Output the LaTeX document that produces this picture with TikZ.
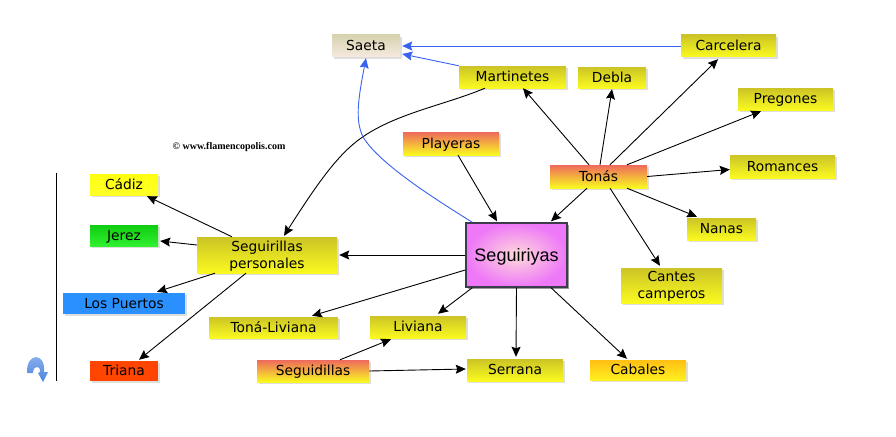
\documentclass[tikz,border=0pt]{standalone}
\usepackage{fontspec}
\setmainfont{DejaVu Sans}
\newfontfamily\arialf{Liberation Sans}
\newfontfamily\timesf{Liberation Serif}
\usetikzlibrary{arrows.meta,shadows,calc}
\definecolor{olivetop}{HTML}{CCC426}
\definecolor{yelbot}{HTML}{FAFA20}
\definecolor{redtop}{HTML}{EE6A5C}
\definecolor{sandtop}{HTML}{D6D3B0}
\definecolor{sandbot}{HTML}{F6E9DF}
\definecolor{ambertop}{HTML}{FFBF14}
\definecolor{amberbot}{HTML}{FFF020}
\definecolor{yeltop}{HTML}{FFFF10}
\definecolor{yelb}{HTML}{FFFF28}
\definecolor{greentop}{HTML}{10CC10}
\definecolor{greenbot}{HTML}{30F030}
\definecolor{bluebox}{HTML}{2A90FF}
\definecolor{redbox}{HTML}{FF4500}
\definecolor{centeredge}{HTML}{3C3C4C}
\definecolor{centerin}{HTML}{FFDADA}
\definecolor{centerout}{HTML}{EE78F8}
\definecolor{blueline}{HTML}{3A62F0}
\definecolor{icontop}{HTML}{8FB4EE}
\definecolor{iconbot}{HTML}{4F86DE}
\tikzset{
  x=1pt,y=-1pt,
  bxbase/.style={draw=none,inner sep=0pt,align=center,font=\fontsize{13.8}{17}\selectfont,
    drop shadow={shadow xshift=2pt,shadow yshift=-2pt,fill=black!13,opacity=1}},
  olive/.style={bxbase,top color=olivetop,bottom color=yelbot},
  reddish/.style={bxbase,top color=redtop,bottom color=yelbot},
  sand/.style={bxbase,top color=sandtop,bottom color=sandbot},
  amber/.style={bxbase,top color=ambertop,bottom color=amberbot},
  solidyel/.style={bxbase,top color=yeltop,bottom color=yelb},
  solidgreen/.style={bxbase,top color=greentop,bottom color=greenbot},
  solidblue/.style={bxbase,fill=bluebox},
  solidred/.style={bxbase,fill=redbox},
  central/.style={draw=centeredge,line width=1.4pt,inner sep=0pt,align=center,
    font=\arialf\fontsize{18}{20}\selectfont,inner color=centerin,outer color=centerout,
    drop shadow={shadow xshift=2pt,shadow yshift=-2pt,fill=black!40,opacity=1}},
  conn/.style={draw=black,line width=0.9pt,-{Stealth[length=10pt,width=9pt,inset=1.5pt]}},
  blueconn/.style={draw=blueline,line width=0.9pt,-{Stealth[length=10pt,width=9pt,inset=1.5pt]}},
}
% \bx{name}{left}{top}{right}{bottom}{style}{text}
\newcommand{\bx}[7]{%
  \pgfmathsetmacro{\bxw}{#4-#2}\pgfmathsetmacro{\bxh}{#5-#3}%
  \node[#6,minimum width=\bxw pt,minimum height=\bxh pt] (#1) at ({(#2+#4)/2},{(#3+#5)/2}) {\rule[-3.2pt]{0pt}{16pt}#7};}
\begin{document}
\begin{tikzpicture}
\useasboundingbox (0,0) rectangle (896,436);
\fill[white] (0,0) rectangle (896,436);
\bx{saeta}{332}{35}{400}{57}{sand}{Saeta}
\bx{mart}{459}{66}{566}{88}{olive}{Martinetes}
\bx{debla}{578}{67}{646}{88}{olive}{Debla}
\bx{carc}{681}{35}{776}{57}{olive}{Carcelera}
\bx{preg}{738}{88}{833}{110}{olive}{Pregones}
\bx{roma}{730}{155}{835}{178}{olive}{Romances}
\bx{play}{403}{132}{499}{155}{reddish}{Playeras}
\bx{tonas}{550}{165}{647}{188}{reddish}{Tonás}
\bx{nanas}{687}{218}{756}{240}{olive}{Nanas}
\bx{cantes}{621}{268}{722}{303}{olive}{Cantes\\camperos}
\bx{segui}{466}{223}{567}{287}{central}{\rule[-3.8pt]{0pt}{20.6pt}Seguiriyas}
\bx{livi}{370}{316}{466}{338}{olive}{Liviana}
\bx{serr}{467}{359}{563}{381}{olive}{Serrana}
\bx{caba}{590}{360}{686}{380}{amber}{Cabales}
\bx{sgdl}{257}{360}{369}{382}{reddish}{Seguidillas}
\bx{tlivi}{209}{317}{338}{338}{olive}{Toná-Liviana}
\bx{pers}{197}{237}{337}{273}{olive}{Seguirillas\\personales}
\bx{cadiz}{90}{174}{158}{195}{solidyel}{Cádiz}
\bx{jerez}{90}{225}{158}{246}{solidgreen}{Jerez}
\bx{puer}{63}{293}{185}{314}{solidblue}{Los Puertos}
\bx{tria}{90}{361}{158}{381}{solidred}{Triana}
\node[font=\timesf\bfseries\fontsize{10}{12}\selectfont,inner sep=0pt] (copy) at (229,147.5) {© www.flamencopolis.com};
% black connectors
\draw[conn] ([xshift=-9.5pt]tonas.north) -- ([xshift=10.5pt]mart.south);
\draw[conn] ([xshift=1.5pt]tonas.north) -- ([yshift=-1pt]debla.south);
\draw[conn] ([xshift=11.5pt]tonas.north) -- ([xshift=-10.5pt,yshift=-2pt]carc.south);
\draw[conn] ([xshift=28.5pt]tonas.north) -- ([xshift=-24.5pt,yshift=-1pt]preg.south);
\draw[conn] (tonas.east) -- ([yshift=-3pt]roma.west);
\draw[conn] ([xshift=28.5pt]tonas.south) -- ([xshift=-24.5pt,yshift=1pt]nanas.north);
\draw[conn] ([xshift=11.5pt]tonas.south) -- ([xshift=-11.5pt,yshift=2pt]cantes.north);
\draw[conn] ([xshift=-11.5pt]tonas.south) -- ([xshift=34.5pt,yshift=1pt]segui.north);
\draw[conn] ([xshift=7pt]play.south) -- ([xshift=-19.5pt,yshift=1pt]segui.north);
\draw[conn] (segui.west) -- ([xshift=2pt]pers.east |- segui.west);
\draw[conn] ([yshift=-15pt]segui.west) -- ([xshift=38.5pt,yshift=1pt]tlivi.north);
\draw[conn] ([xshift=7pt]segui.south west) -- ([xshift=20pt,yshift=2pt]livi.north);
\draw[conn] (segui.south) -- ([xshift=1pt,yshift=2pt]serr.north);
\draw[conn] ([xshift=34.5pt]segui.south) -- ([xshift=-11pt,yshift=1pt]caba.north);
\draw[conn] ([xshift=27pt]sgdl.north) -- ([xshift=-27pt,yshift=-1pt]livi.south);
\draw[conn] (sgdl.east) -- ([xshift=-1pt,yshift=1pt]serr.west);
\draw[conn] ([xshift=-35pt]pers.north) -- ([xshift=23pt,yshift=-1pt]cadiz.south);
\draw[conn] ([yshift=10pt]pers.west) -- ([xshift=2pt,yshift=-5.5pt]jerez.east);
\draw[conn] ([xshift=-52pt]pers.south) -- ([xshift=33pt,yshift=1pt]puer.north);
\draw[conn] ([xshift=-21pt]pers.south) -- ([xshift=15pt,yshift=1pt]tria.north);
\draw[conn] ([xshift=-27.5pt]mart.south) .. controls (440,107) and (385,115) .. (350,147)
  .. controls (330,165) and (310,195) .. ([xshift=17pt,yshift=1pt]pers.north);
% blue connectors
\draw[blueconn] (carc.west) -- ([xshift=2pt]saeta.east);
\draw[blueconn] (mart.north west) -- ([xshift=2pt,yshift=-8pt]saeta.east);
\draw[blueconn] ([xshift=7pt]segui.north west) .. controls (440,202) and (380,165) .. (363,137)
  .. controls (355,120) and (358,100) .. ([yshift=-1pt]saeta.south);
% margin rule and icon
\draw[black,line width=0.9pt] (56,173) -- (56,381);
\shade[top color=icontop,bottom color=iconbot] (27,373) .. controls (26,352) and (46,352) .. (44,372) -- (48,372) -- (43,382) -- (38,373) -- (40,372)
  .. controls (41,365) and (33,365) .. (33,373) -- cycle;
\end{tikzpicture}
\end{document}
